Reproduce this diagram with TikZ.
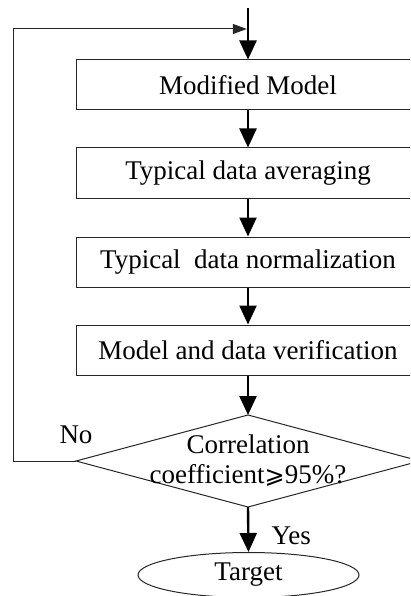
\documentclass[tikz,border=0pt]{standalone}
\usepackage{fontspec}
\setmainfont{Liberation Serif}
\newfontfamily\symfont{DejaVu Sans}
\usetikzlibrary{arrows.meta,shapes.geometric}
\begin{document}
\begin{tikzpicture}[x=1pt,y=-1pt,
  every node/.style={font=\fontsize{27}{29}\selectfont},
  procbox/.style={draw=black!85,line width=1pt,rectangle,minimum width=344pt,minimum height=50pt,inner sep=0pt},
  outline/.style={draw=black!85,line width=1pt},
  flow/.style={line width=2.4pt,-{Triangle[length=19pt,width=17pt]}},
  fb/.style={line width=1pt,draw=black!85,-{Triangle[length=14pt,width=10pt]}}
]
\useasboundingbox (0,0) rectangle (410,596);
\clip (0,0) rectangle (410,596);
\node[procbox] (b1) at (248,85) {Modified Model};
\node[procbox] (b2) at (248,173) {Typical data averaging};
\node[procbox] (b3) at (248,262) {Typical~ data normalization};
\node[procbox] (b4) at (248,350) {Model and data verification};
% decision diamond
\coordinate (dtop) at (248,415);
\coordinate (dright) at (420,461);
\coordinate (dbottom) at (248,507);
\coordinate (dleft) at (76,461);
\draw[outline] (dtop) -- (dright) -- (dbottom) -- (dleft) -- cycle;
\node[align=center,inner sep=0pt] (dia) at (248,461) {Correlation\\[1pt]coefficient{\symfont\fontsize{24}{29}\selectfont ⩾}95\%?};
\node[ellipse,outline,minimum width=221pt,minimum height=45pt,inner sep=0pt] (target) at (248.5,575) {Target};
\node (no) at (76,435) {No};
\node[anchor=west] (yes) at (268,536) {Yes};
\coordinate (start) at (248,8);
\coordinate (join) at (248,29);
\coordinate (corner) at (13,29);
\draw[flow] (start) -- (b1.north);
\draw[flow] (b1.south) -- (b2.north);
\draw[flow] (b2.south) -- (b3.north);
\draw[flow] (b3.south) -- (b4.north);
\draw[flow] (b4.south) -- (dtop);
\draw[flow] (dbottom) -- (target.north);
\draw[fb,shorten >=1.2pt] (dleft) -| (corner) -- (join);
\end{tikzpicture}
\end{document}
